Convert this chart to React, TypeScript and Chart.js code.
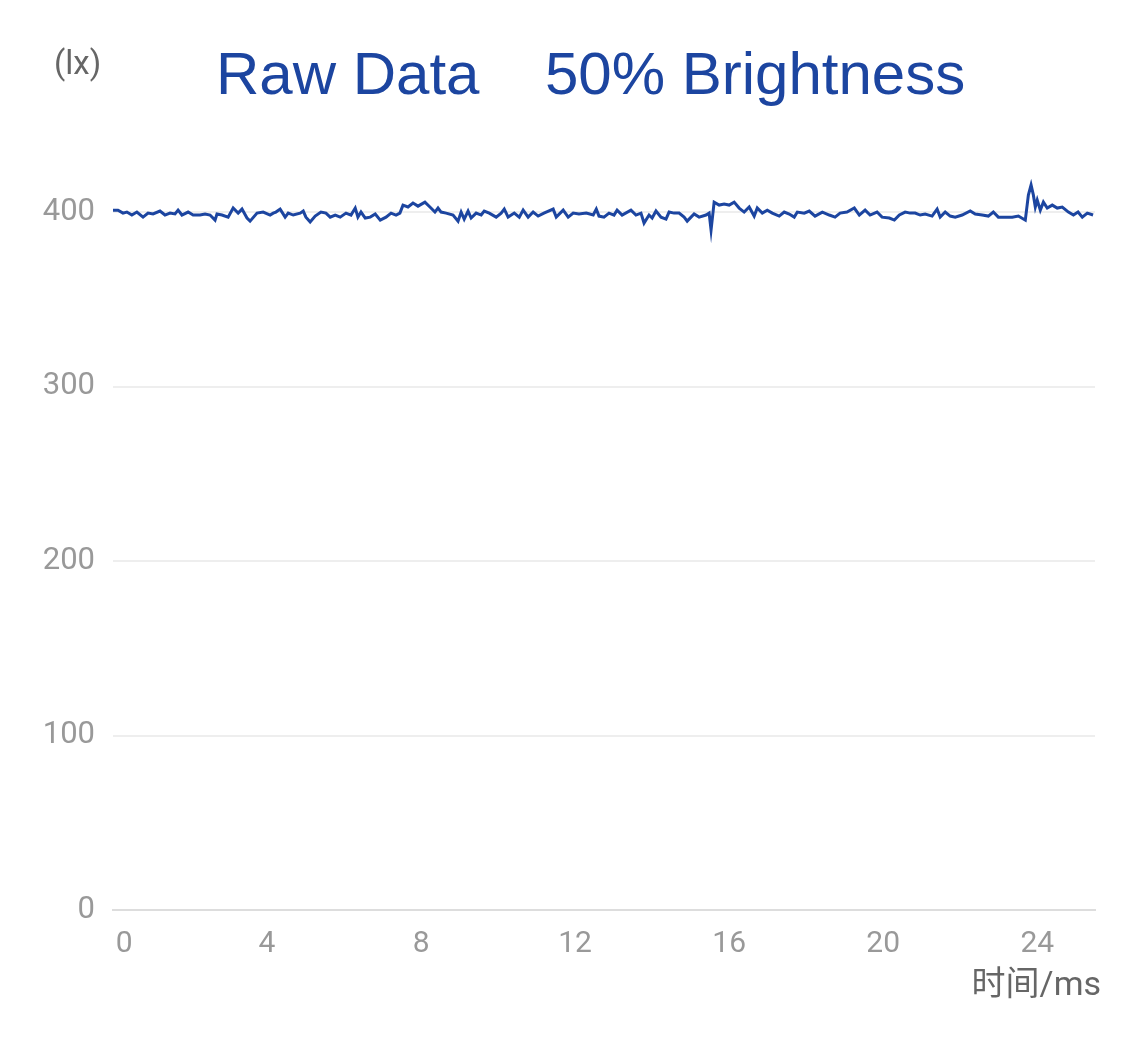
import { useEffect, useRef } from "react";
import { Chart, registerables } from "chart.js";

Chart.register(...registerables);

const timeMs = [
  0.0, 0.13, 0.26, 0.36, 0.49, 0.62, 0.78, 0.91, 1.04, 1.22, 1.35, 1.48, 1.61, 1.69, 1.79, 1.95,
  2.08, 2.26, 2.39, 2.52, 2.65, 2.7, 2.83, 2.99, 3.12, 3.25, 3.35, 3.48, 3.56, 3.74, 3.9, 4.08,
  4.16, 4.23, 4.34, 4.47, 4.55, 4.68, 4.86, 4.94, 5.01, 5.12, 5.25, 5.4, 5.53, 5.64, 5.77, 5.9,
  6.05, 6.18, 6.29, 6.36, 6.44, 6.55, 6.68, 6.81, 6.94, 7.09, 7.22, 7.35, 7.45, 7.53, 7.66, 7.79,
  7.92, 8.1, 8.23, 8.36, 8.44, 8.52, 8.65, 8.83, 8.96, 9.04, 9.12, 9.22, 9.3, 9.43, 9.56, 9.64,
  9.77, 9.95, 10.08, 10.16, 10.26, 10.42, 10.55, 10.65, 10.78, 10.91, 11.04, 11.19, 11.43, 11.51,
  11.69, 11.82, 11.95, 12.1, 12.29, 12.47, 12.55, 12.62, 12.75, 12.88, 13.01, 13.09, 13.22, 13.45,
  13.58, 13.71, 13.79, 13.92, 14.0, 14.1, 14.23, 14.36, 14.44, 14.57, 14.7, 14.83, 14.91, 15.09,
  15.22, 15.4, 15.48, 15.53, 15.61, 15.74, 15.87, 16.0, 16.13, 16.26, 16.39, 16.52, 16.65, 16.73,
  16.86, 16.99, 17.12, 17.3, 17.43, 17.56, 17.69, 17.77, 17.95, 18.08, 18.23, 18.42, 18.6, 18.75,
  18.88, 19.06, 19.25, 19.38, 19.53, 19.66, 19.84, 19.97, 20.16, 20.29, 20.42, 20.57, 20.7, 20.83,
  20.96, 21.09, 21.27, 21.4, 21.48, 21.61, 21.74, 21.87, 22.05, 22.26, 22.39, 22.57, 22.73, 22.86,
  22.99, 23.17, 23.35, 23.51, 23.64, 23.69, 23.77, 23.84, 23.9, 23.95, 24.0, 24.08, 24.16, 24.26,
  24.39, 24.52, 24.65, 24.81, 24.94, 25.06, 25.17, 25.3, 25.45,
];

const lux = [
  401.1, 401.1, 399.4, 400.0, 398.3, 400.0, 397.1, 399.4, 398.9, 400.6, 398.3, 399.4, 398.9, 401.1, 398.3, 400.0,
  398.3, 398.3, 398.9, 398.3, 395.4, 398.9, 398.3, 397.1, 402.3, 399.4, 401.7, 396.6, 394.8, 399.4, 400.0, 398.3,
  399.4, 400.0, 401.7, 397.1, 399.4, 398.3, 399.4, 400.6, 397.1, 394.3, 397.7, 400.0, 399.4, 397.1, 398.3, 397.1,
  399.4, 398.3, 402.3, 397.1, 400.0, 396.6, 397.1, 398.9, 395.4, 397.1, 399.4, 398.3, 399.4, 404.0, 402.9, 405.2,
  403.4, 405.7, 402.9, 400.0, 402.3, 400.0, 399.4, 398.3, 394.8, 400.0, 396.0, 400.6, 396.6, 399.4, 398.3, 400.6,
  399.4, 397.1, 399.4, 401.7, 397.1, 399.4, 397.1, 401.1, 397.1, 400.0, 397.7, 399.4, 401.7, 397.1,
  401.1, 397.1, 399.4, 398.9, 399.4, 398.3, 401.7, 397.7, 397.1, 399.4, 398.3, 401.1, 398.3, 401.1,
  398.3, 399.4, 393.7, 398.3, 396.6, 400.6, 397.1, 396.0, 400.0, 399.4, 399.4, 397.1, 394.8, 398.9,
  397.1, 398.3, 399.4, 389.7, 405.7, 404.0, 404.6, 404.0, 405.7, 402.3, 400.0, 402.9, 397.7, 402.3,
  399.4, 401.1, 399.4, 397.7, 400.0, 398.9, 397.1, 400.0, 399.4, 400.6, 397.7, 400.0, 398.3, 397.1,
  399.4, 400.0, 402.3, 398.3, 401.1, 398.3, 400.0, 397.1, 396.6, 395.4, 398.3, 400.0, 399.4, 399.4,
  398.3, 398.9, 397.7, 401.7, 397.1, 400.0, 397.7, 397.1, 398.3, 400.6, 398.9, 398.3, 397.7, 400.0,
  397.1, 397.1, 397.1, 397.7, 396.0, 395.4, 409.7, 415.5, 409.7, 402.9, 406.9, 401.1, 405.7, 402.3,
  404.0, 402.3, 402.9, 400.0, 398.3, 400.0, 397.1, 399.4, 398.3,
];

const yTickValues = [0, 100, 200, 300, 400];
const xTickValues = [0, 4, 8, 12, 16, 20, 24];
const titleLeft = "Raw Data";
const titleRight = "50% Brightness";
const yUnit = "(lx)";
const xUnit = "时间/ms";

export default function App() {
  const ref = useRef<HTMLCanvasElement>(null);

  useEffect(() => {
    if (!ref.current) return;
    const textPlugin = {
      id: "freeTexts",
      afterDraw(chart: any) {
        const ctx = chart.ctx as CanvasRenderingContext2D;
        ctx.save();
        ctx.fillStyle = "#1c45a0";
        ctx.font = '60px "Liberation Sans", Arial, sans-serif';
        ctx.textBaseline = "alphabetic";
        ctx.textAlign = "left";
        ctx.fillText(titleLeft, 216, 94);
        ctx.fillText(titleRight, 545, 94);
        ctx.fillStyle = "#666666";
        ctx.font = "33px Roboto, sans-serif";
        ctx.fillText(yUnit, 54, 74);
        ctx.textAlign = "right";
        ctx.font = '34px Roboto, "Noto Sans CJK SC", sans-serif';
        ctx.fillText(xUnit, 1101, 995);
        ctx.restore();
      },
    };

    const chart = new Chart(ref.current, {
      type: "line",
      data: {
        datasets: [
          {
            data: timeMs.map((t, i) => ({ x: t, y: lux[i] })),
            borderColor: "#1c45a0",
            borderWidth: 3,
            pointRadius: 0,
            tension: 0,
            fill: false,
          },
        ],
      },
      options: {
        animation: false,
        responsive: false,
        maintainAspectRatio: false,
        layout: { padding: { top: 151, right: 30, left: 0, bottom: 0 } },
        plugins: {
          legend: { display: false },
          tooltip: { enabled: false },
          title: { display: false },
        },
        scales: {
          x: {
            type: "linear",
            min: 0,
            max: 25.5,
            afterBuildTicks: (s: any) => {
              s.ticks = xTickValues.map((v) => ({ value: v }));
            },
            afterFit: (s: any) => {
              s.height = 130;
            },
            grid: { display: false, drawTicks: false },
            border: { color: "#dddddd", width: 2 },
            ticks: {
              padding: 16,
              color: "#999999",
              font: { family: "Roboto", size: 30 },
              maxRotation: 0,
              autoSkip: false,
              callback: (v: any) => (v === 0 ? "   0" : String(v)),
            },
          },
          y: {
            type: "linear",
            min: 0,
            max: 435,
            afterBuildTicks: (s: any) => {
              s.ticks = yTickValues.map((v) => ({ value: v }));
            },
            afterFit: (s: any) => {
              s.width = 113;
            },
            grid: { color: "#eeeeee", lineWidth: 2, drawTicks: false },
            border: { display: false },
            ticks: {
              padding: 18,
              color: "#999999",
              font: { family: "Roboto", size: 31 },
            },
          },
        },
      },
      plugins: [textPlugin],
    });
    return () => chart.destroy();
  }, []);

  return (
    <div style={{ position: "absolute", left: 0, top: 0, width: 1125, height: 1040, background: "#ffffff" }}>
      <canvas ref={ref} width={1125} height={1040} style={{ width: 1125, height: 1040, display: "block" }} />
    </div>
  );
}
